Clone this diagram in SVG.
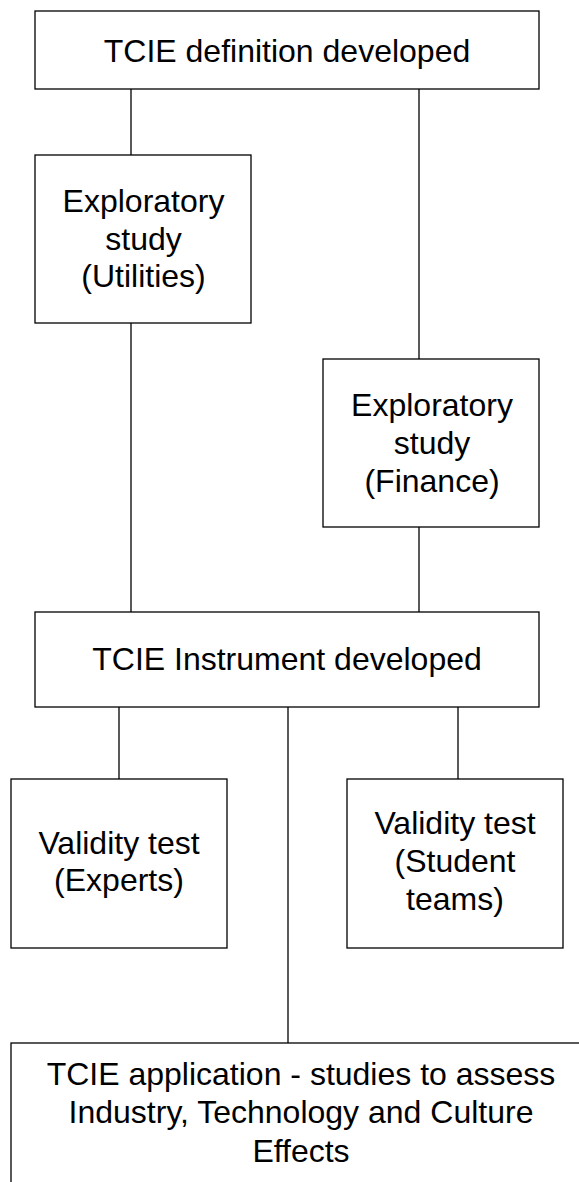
<svg xmlns="http://www.w3.org/2000/svg" width="579" height="1182" viewBox="0 0 579 1182">
<style>
.box{fill:#fff;stroke:#000;stroke-width:1.3}
.ln{stroke:#000;stroke-width:1.3;fill:none}
text{font-family:"Liberation Sans",Arial,sans-serif;font-size:32px;fill:#000;text-anchor:middle}
</style>
<rect width="579" height="1182" fill="#fff"/>
<g id="connectors">
<line class="ln" x1="131" y1="89" x2="131" y2="155"/>
<line class="ln" x1="419" y1="89" x2="419" y2="359"/>
<line class="ln" x1="131" y1="323" x2="131" y2="612"/>
<line class="ln" x1="419" y1="527" x2="419" y2="612"/>
<line class="ln" x1="119" y1="707" x2="119" y2="779"/>
<line class="ln" x1="288" y1="707" x2="288" y2="1043"/>
<line class="ln" x1="458" y1="707" x2="458" y2="779"/>
</g>
<g id="n-definition">
<rect class="box" x="35" y="11" width="504" height="78"/>
<text x="287" y="62">TCIE definition developed</text>
</g>
<g id="n-utilities">
<rect class="box" x="35" y="155" width="216" height="168"/>
<text x="143.5" y="212">Exploratory</text>
<text x="143.5" y="250">study</text>
<text x="143.5" y="287">(Utilities)</text>
</g>
<g id="n-finance">
<rect class="box" x="323" y="359" width="216" height="168"/>
<text x="432" y="416">Exploratory</text>
<text x="432" y="454">study</text>
<text x="432" y="492">(Finance)</text>
</g>
<g id="n-instrument">
<rect class="box" x="35" y="612" width="504" height="95"/>
<text x="287" y="670">TCIE Instrument developed</text>
</g>
<g id="n-experts">
<rect class="box" x="11" y="779" width="216" height="169"/>
<text x="119" y="854">Validity test</text>
<text x="119" y="891">(Experts)</text>
</g>
<g id="n-students">
<rect class="box" x="347" y="779" width="216" height="169"/>
<text x="455" y="834">Validity test</text>
<text x="455" y="872">(Student</text>
<text x="455" y="910">teams)</text>
</g>
<g id="n-application">
<rect class="box" x="11" y="1043" width="580" height="200"/>
<text x="301" y="1085">TCIE application - studies to assess</text>
<text x="301" y="1123">Industry, Technology and Culture</text>
<text x="301" y="1162">Effects</text>
</g>
</svg>
